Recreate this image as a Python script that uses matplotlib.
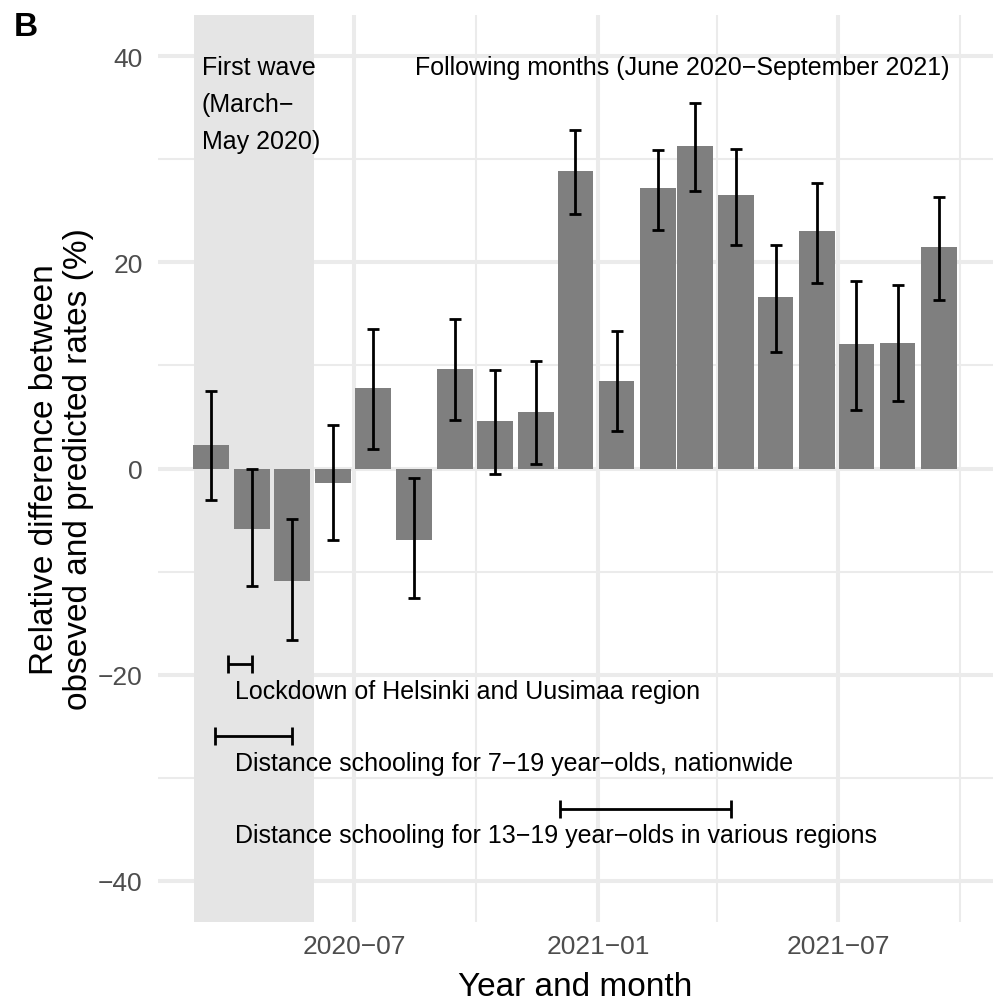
import matplotlib
matplotlib.use("Agg")
import matplotlib.pyplot as plt
import matplotlib.dates as mdates
from matplotlib.ticker import MultipleLocator
import numpy as np
import datetime as dt

# monthly estimates (bar at mid-month)
months = ["2020-03-15", "2020-04-15", "2020-05-15", "2020-06-15", "2020-07-15",
          "2020-08-15", "2020-09-15", "2020-10-15", "2020-11-15", "2020-12-15",
          "2021-01-15", "2021-02-15", "2021-03-15", "2021-04-15", "2021-05-15",
          "2021-06-15", "2021-07-15", "2021-08-15", "2021-09-15"]
rel_diff = [2.3, -5.9, -10.9, -1.4, 7.8, -6.9, 9.7, 4.6, 5.5, 28.9,
            8.5, 27.2, 31.3, 26.5, 16.6, 23.0, 12.1, 12.2, 21.5]
ci_low = [-3.1, -11.4, -16.6, -6.9, 1.9, -12.6, 4.7, -0.5, 0.4, 24.7,
          3.6, 23.1, 26.9, 21.7, 11.3, 18.0, 5.7, 6.6, 16.4]
ci_high = [7.5, 0.0, -4.9, 4.2, 13.5, -0.9, 14.5, 9.6, 10.4, 32.8,
           13.3, 30.9, 35.5, 31.0, 21.7, 27.7, 18.2, 17.8, 26.3]

# restriction periods drawn as horizontal bars
measure_labels = ["Lockdown of Helsinki and Uusimaa region",
                  "Distance schooling for 7\u221219 year\u2212olds, nationwide",
                  "Distance schooling for 13\u221219 year\u2212olds in various regions"]
measure_start = ["2020-03-28", "2020-03-18", "2020-12-03"]
measure_end = ["2020-04-15", "2020-05-15", "2021-04-11"]
measure_y = [-19, -26, -33]

first_wave = ("2020-03-02", "2020-06-01")


def d(s):
    return mdates.date2num(dt.datetime.strptime(s, "%Y-%m-%d"))


plt.rcParams['font.family'] = ['Liberation Sans', 'DejaVu Sans']

fig = plt.figure(figsize=(10.03, 10.04), dpi=100)
ax = fig.add_axes([0.1575, 0.0807, 0.8325, 0.9033])

x = np.array([d(m) for m in months])
y = np.array(rel_diff)
lo = np.array(ci_low)
hi = np.array(ci_high)

ax.axvspan(d(first_wave[0]), d(first_wave[1]), color='#E5E5E5', lw=0, zorder=1)
ax.bar(x, y, width=27, color='#7F7F7F', zorder=2)
ax.errorbar(x, y, yerr=[y - lo, hi - y], fmt='none', ecolor='black',
            elinewidth=2, capsize=4.2, capthick=2, zorder=3)

for lab, s, e, yy in zip(measure_labels, measure_start, measure_end, measure_y):
    xs, xe = d(s), d(e)
    ax.errorbar([(xs + xe) / 2], [yy], xerr=[[(xe - xs) / 2], [(xe - xs) / 2]],
                fmt='none', ecolor='black', elinewidth=2, capsize=6.5, capthick=2, zorder=3)
    ax.text(d("2020-04-02"), yy - 2.6, lab, fontsize=18, va='center', ha='left', zorder=4)

ax.text(d("2020-03-08"), 40.1, "First wave\n(March\u2212\nMay 2020)", fontsize=18,
        va='top', ha='left', linespacing=1.69, zorder=4)
ax.text(d("2020-08-16"), 40.1, "Following months (June 2020\u2212September 2021)",
        fontsize=18, va='top', ha='left', zorder=4)

ax.set_xlim(d("2020-02-04"), d("2021-10-26"))
ax.set_ylim(-44, 44)

ax.xaxis.set_major_locator(mdates.MonthLocator(bymonth=[1, 7]))
ax.xaxis.set_minor_locator(mdates.MonthLocator(bymonth=[4, 10]))
ax.xaxis.set_major_formatter(mdates.DateFormatter("%Y\u2212%m"))
ax.yaxis.set_minor_locator(MultipleLocator(10))
ax.set_yticks([-40, -20, 0, 20, 40])
ax.set_yticklabels(["\u221240", "\u221220", "0", "20", "40"])

ax.grid(which='major', color='#EBEBEB', lw=2.9, zorder=0)
ax.grid(which='minor', color='#EBEBEB', lw=1.45, zorder=0)
ax.set_axisbelow(True)
for sp in ax.spines.values():
    sp.set_visible(False)
ax.tick_params(which='both', length=0, labelsize=19, labelcolor='#4D4D4D')
ax.tick_params(axis='y', pad=11)
ax.tick_params(axis='x', pad=9)

ax.set_xlabel("Year and month", fontsize=24, labelpad=9)
ax.set_ylabel("Relative difference between\nobseved and predicted rates (%)",
              fontsize=24, labelpad=3, linespacing=1.12)

fig.text(0.014, 0.988, "B", fontsize=24, fontweight='bold', va='top', ha='left')

plt.savefig("out.png", dpi=100)
